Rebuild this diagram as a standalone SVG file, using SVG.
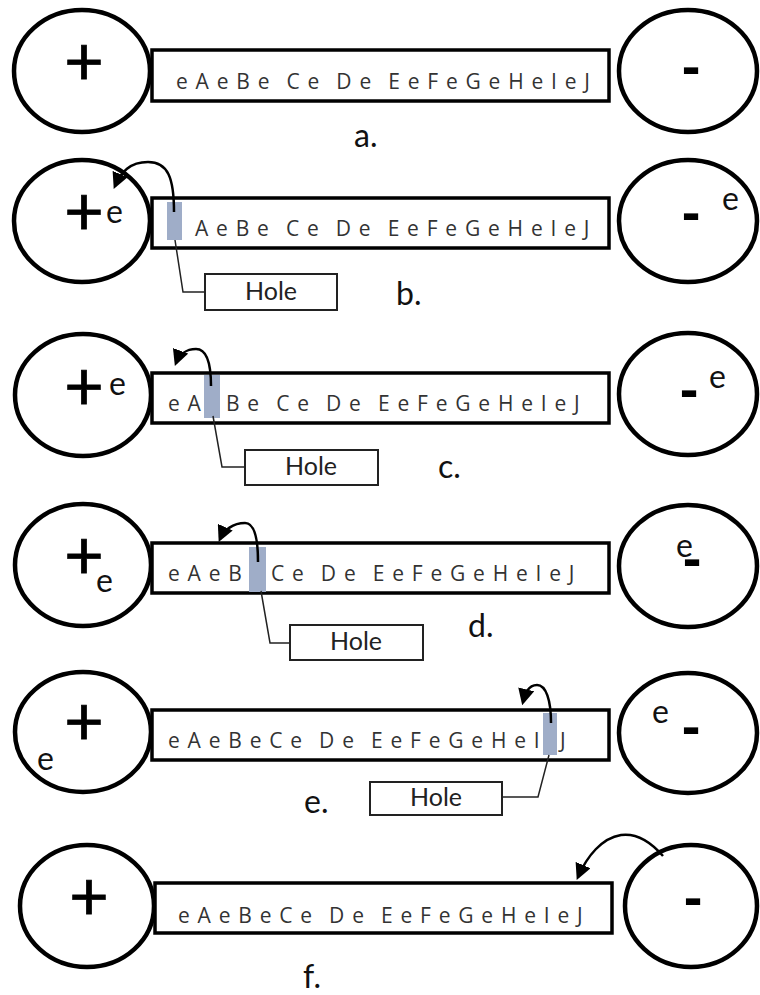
<svg xmlns="http://www.w3.org/2000/svg" width="760" height="995" viewBox="0 0 760 995">
  <style>
    .pole { fill: #fff; stroke: #000; stroke-width: 4.5; }
    .wire { fill: #fff; stroke: #000; stroke-width: 3.5; }
    .hole { fill: #9fadc8; stroke: none; }
    .tag { fill: #fff; stroke: #222; stroke-width: 2; }
    .lead { fill: none; stroke: #222; stroke-width: 1.5; }
    .jump { fill: none; stroke: #000; stroke-width: 2.5; marker-end: url(#head); }
    .plus { font-family: Lato, "Open Sans", sans-serif; font-size: 68px; fill: #000; text-anchor: middle; stroke: #000; stroke-width: 0.8; }
    .minus { font-family: "Liberation Sans", sans-serif; font-weight: bold; font-size: 56px; fill: #000; text-anchor: middle; }
    .el { font-family: Lato, "Open Sans", sans-serif; font-size: 32px; fill: #111; }
    .seq { font-family: "Open Sans", Lato, sans-serif; font-size: 21px; letter-spacing: 7.8px; word-spacing: -4px; fill: #333; }
    .cap { font-family: Lato, "Open Sans", sans-serif; font-size: 32px; fill: #111; }
    .hl { font-family: Lato, "Open Sans", sans-serif; font-size: 25px; fill: #222; text-anchor: middle; }
  </style>
  <defs>
    <marker id="head" viewBox="0 0 10 10" refX="8" refY="5" markerWidth="6.5" markerHeight="6.5" orient="auto" markerUnits="strokeWidth">
      <path d="M0,0 L10,5 L0,10 z" fill="#000"/>
    </marker>
  </defs>

  <!-- a. -->
  <g id="panel-a">
    <g id="a-anode"><ellipse class="pole" cx="82" cy="71" rx="68" ry="61"/><text class="plus" x="84" y="85">+</text></g>
    <g id="a-wire"><rect class="wire" x="152" y="50" width="457" height="51"/>
      <text class="seq" x="176" y="89">eAeBe Ce De EeFeGeHeIeJ</text></g>
    <g id="a-cathode"><ellipse class="pole" cx="688" cy="71" rx="69" ry="61"/><text class="minus" x="691" y="85">-</text></g>
    <text class="cap" x="354" y="147">a.</text>
  </g>

  <!-- b. -->
  <g id="panel-b">
    <g id="b-anode"><ellipse class="pole" cx="82" cy="221" rx="68" ry="61"/><text class="plus" x="84" y="235">+</text><text class="el" x="106" y="223">e</text></g>
    <g id="b-wire"><rect class="wire" x="152" y="198" width="457" height="50"/>
      <rect class="hole" x="167" y="202" width="15" height="38"/>
      <text class="seq" x="195" y="236">AeBe Ce De EeFeGeHeIeJ</text></g>
    <g id="b-hole"><rect class="tag" x="205" y="274" width="132" height="36"/><text class="hl" x="271" y="300">Hole</text></g>
    <g id="b-cathode"><ellipse class="pole" cx="688" cy="221" rx="69" ry="61"/><text class="minus" x="691" y="231">-</text><text class="el" x="722" y="210">e</text></g>
    <text class="cap" x="396" y="305">b.</text>
  </g>

  <!-- c. -->
  <g id="panel-c">
    <g id="c-anode"><ellipse class="pole" cx="83" cy="395" rx="68" ry="61"/><text class="plus" x="84" y="410">+</text><text class="el" x="109" y="395">e</text></g>
    <g id="c-wire"><rect class="wire" x="152" y="373" width="457" height="50"/>
      <rect class="hole" x="204" y="375" width="16" height="43"/>
      <text class="seq" x="168" y="411">eA</text>
      <text class="seq" x="226" y="411">Be Ce De EeFeGeHeIeJ</text></g>
    <g id="c-hole"><rect class="tag" x="245" y="450" width="133" height="35"/><text class="hl" x="311" y="475">Hole</text></g>
    <g id="c-cathode"><ellipse class="pole" cx="688" cy="394" rx="69" ry="61"/><text class="minus" x="689" y="408">-</text><text class="el" x="709" y="388">e</text></g>
    <text class="cap" x="438" y="478">c.</text>
  </g>

  <!-- d. -->
  <g id="panel-d">
    <g id="d-anode"><ellipse class="pole" cx="83" cy="565" rx="68" ry="61"/><text class="plus" x="84" y="579">+</text><text class="el" x="96" y="592">e</text></g>
    <g id="d-wire"><rect class="wire" x="152" y="543" width="457" height="50"/>
      <rect class="hole" x="249" y="547" width="17" height="45"/>
      <text class="seq" x="168" y="581">eAeB</text>
      <text class="seq" x="271" y="581">Ce De EeFeGeHeIeJ</text></g>
    <g id="d-hole"><rect class="tag" x="290" y="625" width="133" height="35"/><text class="hl" x="356" y="650">Hole</text></g>
    <g id="d-cathode"><ellipse class="pole" cx="688" cy="566" rx="69" ry="61"/><text class="el" x="676" y="557">e</text><text class="minus" x="692" y="577">-</text></g>
    <text class="cap" x="468" y="637">d.</text>
  </g>

  <!-- e. -->
  <g id="panel-e">
    <g id="e-anode"><ellipse class="pole" cx="83" cy="732" rx="68" ry="60"/><text class="plus" x="84" y="745">+</text><text class="el" x="37" y="770">e</text></g>
    <g id="e-wire"><rect class="wire" x="152" y="710" width="457" height="50"/>
      <rect class="hole" x="543" y="713" width="14" height="42"/>
      <text class="seq" x="168" y="748">eAeBeCe De EeFeGeHeI</text>
      <text class="seq" x="560" y="748">J</text></g>
    <g id="e-hole"><rect class="tag" x="370" y="782" width="132" height="33"/><text class="hl" x="436" y="806">Hole</text></g>
    <g id="e-cathode"><ellipse class="pole" cx="688" cy="733" rx="69" ry="60"/><text class="el" x="652" y="723">e</text><text class="minus" x="691" y="745">-</text></g>
    <text class="cap" x="304" y="813">e.</text>
  </g>

  <!-- f. -->
  <g id="panel-f">
    <g id="f-anode"><ellipse class="pole" cx="87" cy="906" rx="67" ry="61"/><text class="plus" x="89" y="920">+</text></g>
    <g id="f-wire"><rect class="wire" x="155" y="883" width="457" height="50"/>
      <text class="seq" x="178" y="923">eAeBeCe De EeFeGeHeIeJ</text></g>
    <g id="f-cathode"><ellipse class="pole" cx="691" cy="906" rx="66" ry="61"/><text class="minus" x="693" y="916">-</text></g>
    <text class="cap" x="303" y="988">f.</text>
  </g>

  <!-- connectors: electron hops and hole callouts -->
  <g id="connectors">
    <path class="jump" d="M174,212 C174,178 168,162 148,162 C130,162 121,172 115,186"/>
    <path class="jump" d="M211,386 C211,362 206,349 196,349 C186,349 179,355 176,363"/>
    <path class="jump" d="M258,562 C258,537 254,523 245,523 C233,523 224,530 220,539"/>
    <path class="jump" d="M551,723 C551,700 546,685 537,685 C528,685 525,694 523,702"/>
    <path class="jump" d="M663,856 C650,841 636,833 621,835 C602,838 587,856 578,877"/>
    <path class="lead" d="M175,240 L183,292 L205,292"/>
    <path class="lead" d="M213,416 L222,467 L245,467"/>
    <path class="lead" d="M261,591 L270,643 L290,643"/>
    <path class="lead" d="M549,755 L538,797 L502,797"/>
  </g>
</svg>
